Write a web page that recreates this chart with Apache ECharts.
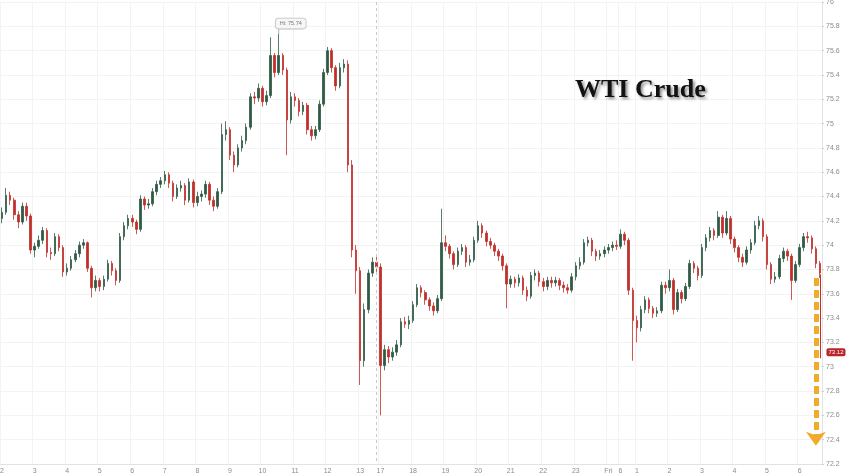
<!DOCTYPE html>
<html><head><meta charset="utf-8">
<script src="https://cdn.jsdelivr.net/npm/echarts@6/dist/echarts.min.js"></script>
<style>html,body{margin:0;padding:0;background:#fff}#c{width:848px;height:476px}</style>
</head><body><div id="c"></div>
<script>
// x-axis tick labels (candle index -> label)
const tickIndex = [0,8,16,24,32,40,48,56,64,72,80,88,93,101,109,117,125,133,141,149,152,156,164,172,180,188,196];
const tickText  = ['2','3','4','5','6','7','8','9','10','11','12','13','17','18','19','20','21','22','23','Fri','6','1','2','3','4','5','6'];

// candles: [open, close, low, high]
const ohlcA = [
[74.22,74.27,74.18,74.31],[74.27,74.41,74.25,74.47],[74.41,74.37,74.33,74.44],[74.37,74.25,74.21,74.39],
[74.25,74.19,74.14,74.28],[74.19,74.32,74.17,74.35],[74.32,74.24,74.2,74.35],[74.24,73.96,73.93,74.26],
[73.96,73.99,73.9,74.02],[73.99,74.04,73.97,74.08],[74.04,74.12,74.01,74.15],[74.12,73.94,73.9,74.14],
[73.94,73.93,73.88,73.98],[73.93,74.07,73.91,74.1],[74.07,73.98,73.95,74.09],[73.98,73.78,73.74,74.0],
[73.78,73.81,73.75,73.85],[73.81,73.88,73.79,73.91],[73.88,73.93,73.86,73.96],[73.93,74.0,73.9,74.03],
[74.0,74.02,73.97,74.05],[74.02,73.81,73.78,74.03],[73.81,73.65,73.57,73.83],[73.65,73.71,73.62,73.75],
[73.71,73.66,73.62,73.73],[73.66,73.72,73.63,73.75],[73.72,73.85,73.7,73.88],[73.85,73.79,73.75,73.87],
[73.79,73.71,73.67,73.81],[73.71,74.07,73.69,74.1],[74.07,74.16,74.04,74.19],[74.16,74.22,74.13,74.25],
[74.22,74.19,74.15,74.25],[74.19,74.13,74.09,74.21],[74.13,74.38,74.11,74.41],[74.38,74.33,74.29,74.4],
[74.33,74.34,74.3,74.38],[74.34,74.44,74.32,74.47],[74.44,74.5,74.41,74.53],[74.5,74.53,74.47,74.56],
[74.53,74.58,74.5,74.61],[74.58,74.51,74.47,74.6],[74.51,74.4,74.36,74.53],[74.4,74.47,74.38,74.5],
[74.47,74.49,74.44,74.53],[74.49,74.37,74.33,74.51],[74.37,74.52,74.35,74.55],[74.52,74.35,74.31,74.54],
[74.35,74.4,74.32,74.44],[74.4,74.42,74.36,74.45],[74.42,74.5,74.39,74.53],[74.5,74.37,74.33,74.52],
[74.37,74.32,74.28,74.4],[74.32,74.44,74.3,74.47],[74.44,74.91,74.42,75.0],[74.91,74.95,74.86,75.02],
[74.95,74.74,74.7,74.97],[74.74,74.66,74.6,74.77],[74.66,74.8,74.64,74.83],[74.8,74.86,74.77,74.9],
[74.86,74.97,74.83,75.0],[74.97,75.22,74.95,75.25],[75.22,75.21,75.16,75.26],[75.21,75.29,75.18,75.33],
[75.29,75.18,75.14,75.31],[75.18,75.23,75.15,75.27],[75.23,75.56,75.21,75.71],[75.56,75.42,75.38,75.58],
[75.42,75.56,75.4,75.74],[75.56,75.44,75.4,75.58],[75.44,75.03,74.74,75.46],[75.03,75.22,75.0,75.26],
[75.22,75.19,75.14,75.25],[75.19,75.1,75.06,75.21],[75.1,75.15,75.07,75.18],[75.15,74.95,74.91,75.17],
[74.95,74.9,74.86,74.98],[74.9,74.95,74.87,74.98],[74.95,75.16,74.93,75.19],[75.16,75.42,75.14,75.45],
[75.42,75.6,75.4,75.63],[75.6,75.46,75.42,75.62],[75.46,75.31,75.27,75.48],[75.31,75.46,75.29,75.5],
[75.46,75.49,75.42,75.53],[75.49,74.66,74.6,75.52],[74.66,73.96,73.9,74.7],[73.96,73.79,73.6,74.0],
[73.79,73.05,72.85,73.82],[73.05,73.47,73.0,73.52],[73.47,73.77,73.44,73.8],[73.77,73.86,73.74,73.9],
[73.86,73.82,73.78,73.92]
];
const ohlcB = [
[73.82,73.01,72.6,73.85],[73.01,73.14,72.97,73.18],[73.14,73.08,73.03,73.17],[73.08,73.12,73.05,73.16],
[73.12,73.18,73.09,73.22],[73.18,73.37,73.16,73.4],[73.37,73.35,73.32,73.41],[73.35,73.38,73.31,73.42],
[73.38,73.51,73.36,73.54],[73.51,73.65,73.49,73.68],[73.65,73.61,73.57,73.67],[73.61,73.55,73.51,73.63],
[73.55,73.5,73.46,73.57],[73.5,73.46,73.42,73.53],[73.46,73.56,73.44,73.59],[73.56,74.02,73.54,74.3],
[74.02,73.99,73.95,74.08],[73.99,73.93,73.89,74.01],[73.93,73.84,73.8,73.95],[73.84,73.95,73.82,73.98],
[73.95,73.98,73.92,74.01],[73.98,73.86,73.82,74.0],[73.86,73.88,73.83,73.92],[73.88,74.04,73.86,74.07],
[74.04,74.16,74.02,74.2],[74.16,74.1,74.06,74.18],[74.1,74.03,73.99,74.12],[74.03,74.0,73.97,74.06],
[74.0,73.95,73.91,74.02],[73.95,73.91,73.87,73.97],[73.91,73.83,73.79,73.93],[73.83,73.68,73.48,73.85],
[73.68,73.72,73.65,73.75],[73.72,73.69,73.65,73.74],[73.69,73.73,73.66,73.76],[73.73,73.63,73.59,73.75],
[73.63,73.58,73.54,73.66],[73.58,73.75,73.56,73.78],[73.75,73.77,73.71,73.8],[73.77,73.7,73.66,73.79],
[73.7,73.66,73.62,73.73],[73.66,73.71,73.63,73.74],[73.71,73.69,73.65,73.74],[73.69,73.71,73.66,73.74],
[73.71,73.67,73.63,73.73],[73.67,73.65,73.61,73.7],[73.65,73.63,73.6,73.68],[73.63,73.74,73.61,73.77],
[73.74,73.83,73.71,73.86],[73.83,73.86,73.8,73.9],[73.86,74.02,73.84,74.05],[74.02,74.04,73.99,74.07],
[74.04,73.95,73.91,74.06],[73.95,73.91,73.87,73.97],[73.91,73.93,73.88,73.96],[73.93,73.96,73.9,73.99],
[73.96,73.98,73.93,74.01],[73.98,74.0,73.95,74.03],[74.0,73.99,73.96,74.04],[73.99,74.09,73.97,74.13],
[74.09,74.04,74.0,74.11],[74.04,73.63,73.59,74.06],[73.63,73.38,73.05,73.65],[73.38,73.32,73.2,73.42],
[73.32,73.47,73.29,73.5],[73.47,73.55,73.44,73.58],[73.55,73.48,73.44,73.57],[73.48,73.44,73.4,73.5],
[73.44,73.46,73.41,73.49],[73.46,73.67,73.44,73.7],[73.67,73.65,73.6,73.7],[73.65,73.71,73.62,73.8],
[73.71,73.47,73.43,73.73],[73.47,73.61,73.45,73.64],[73.61,73.56,73.52,73.63],[73.56,73.66,73.54,73.69],
[73.66,73.85,73.64,73.88],[73.85,73.81,73.77,73.87],[73.81,73.75,73.71,73.83],[73.75,73.98,73.73,74.01],
[73.98,74.06,73.95,74.09],[74.06,74.12,74.03,74.15],[74.12,74.08,74.04,74.14],[74.08,74.23,74.06,74.28],
[74.23,74.1,74.06,74.25],[74.1,74.22,74.08,74.28],[74.22,74.05,74.01,74.24],[74.05,73.98,73.94,74.07],
[73.98,73.9,73.86,74.0],[73.9,73.86,73.82,73.93],[73.86,73.96,73.84,73.99],[73.96,74.02,73.93,74.05],
[74.02,74.16,74.0,74.2],[74.16,74.2,74.13,74.24],[74.2,74.07,74.03,74.22],[74.07,73.84,73.8,74.09],
[73.84,73.72,73.68,73.86],[73.72,73.74,73.69,73.78],[73.74,73.89,73.72,73.92],[73.89,73.95,73.86,73.98],
[73.95,73.91,73.87,73.97],[73.91,73.71,73.55,73.93],[73.71,73.84,73.69,73.87],[73.84,73.98,73.82,74.01],
[73.98,74.07,73.95,74.1],[74.07,74.06,74.02,74.11],[74.06,73.97,73.93,74.08],[73.97,73.85,73.81,73.99],
[73.85,73.77,73.73,73.87]
];

// annotations
const highIndex = 68, highValue = 75.74, highText = 'Hi: 75.74';
const sessionBreakIndex = 92;
const lastQuoteText = '73.12', lastQuoteValue = 73.12;
const arrowIndex = 200, arrowFrom = 73.73, arrowTo = 72.35;
const yMin = 72.2, yMax = 76, yStep = 0.2;

const candles = ohlcA.concat(ohlcB);
const categories = candles.map((_, i) => String(i));
const lastIndex = candles.length - 1;
const tickMap = {};
tickIndex.forEach((k, j) => { tickMap[k] = tickText[j]; });
const isTick = (i) => tickMap[i] !== undefined;

const chart = echarts.init(document.getElementById('c'), null, {renderer: 'canvas'});
chart.setOption({
  animation: false,
  backgroundColor: '#ffffff',
  title: {
    text: 'WTI Crude', left: 570, top: 72,
    textStyle: {
      fontFamily: '"Liberation Serif", "DejaVu Serif", serif', fontWeight: 'bold',
      fontSize: 26, color: '#121212',
      textShadowColor: 'rgba(0,0,0,0.45)', textShadowBlur: 3, textShadowOffsetX: 2, textShadowOffsetY: 2
    }
  },
  grid: { left: 0, right: 26, top: 2, bottom: 12, outerBoundsMode: 'none' },
  xAxis: {
    type: 'category', data: categories, boundaryGap: true,
    axisLine: { show: true, lineStyle: { color: '#e2e2e2', width: 1 } },
    axisTick: { show: false },
    axisLabel: {
      interval: (i) => isTick(i), formatter: (v, i) => tickMap[i] || '',
      fontSize: 7, color: '#8c8c8c', margin: 4, fontFamily: '"Liberation Sans", Arial, sans-serif'
    },
    splitLine: { show: true, interval: (i) => isTick(i), lineStyle: { color: '#f3f3f3', width: 1 } }
  },
  yAxis: {
    type: 'value', position: 'right', min: yMin, max: yMax, interval: yStep, scale: true,
    axisLine: { show: true, lineStyle: { color: '#e2e2e2', width: 1 } },
    axisTick: { show: true, length: 2, lineStyle: { color: '#d0d0d0' } },
    axisLabel: { fontSize: 7, color: '#8c8c8c', margin: 4, fontFamily: '"Liberation Sans", Arial, sans-serif',
      formatter: (v) => String(Math.round(v * 10) / 10) },
    splitLine: { show: true, lineStyle: { color: '#f3f3f3', width: 1 } }
  },
  series: [{
    type: 'candlestick',
    data: candles,
    barMaxWidth: 2.6,
    itemStyle: {
      color: '#2f5a45', color0: '#c0302b',
      borderColor: '#2f5a45', borderColor0: '#c0302b', borderWidth: 0.8
    },
    markLine: {
      silent: true, animation: false, symbol: ['none', 'none'],
      label: { show: false },
      data: [
        [ { coord: [sessionBreakIndex, yMax], lineStyle: { color: '#c8c8c8', width: 1, type: [3, 3] } },
          { coord: [sessionBreakIndex, yMin] } ],
        [ { coord: [lastIndex, 73.76], lineStyle: { color: '#c0302b', width: 1, type: 'solid' } },
          { coord: [lastIndex, 73.07] } ],
        [ { coord: [arrowIndex, arrowFrom], symbol: 'none',
            lineStyle: { color: '#f2aa2a', width: 5, type: [8, 4], cap: 'butt' } },
          { coord: [arrowIndex, arrowTo], symbol: 'arrow', symbolSize: [15, 14] } ]
      ]
    },
    markPoint: {
      silent: true, animation: false,
      data: [
        { coord: [highIndex, highValue], symbol: 'rect', symbolSize: [1, 5], symbolOffset: [0, -2.5],
          itemStyle: { color: '#b5b5b5' },
          label: { show: true, formatter: highText, position: 'top', distance: 0, offset: [12, 0],
            fontSize: 5.5, color: '#777', backgroundColor: '#f6f6f6', borderColor: '#bdbdbd',
            borderWidth: 0.8, borderRadius: 3, padding: [2, 4] } },
        { coord: [lastIndex, lastQuoteValue], symbol: 'rect', symbolSize: 0,
          label: { show: true, formatter: lastQuoteText, position: 'inside', offset: [16, 0],
            fontSize: 6, color: '#ffffff', backgroundColor: '#b8262b', borderRadius: 2, padding: [1, 2] } }
      ]
    }
  }]
});
</script>
</body></html>
